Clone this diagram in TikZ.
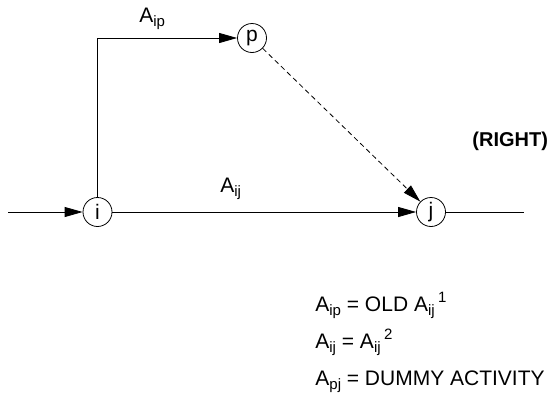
\documentclass[tikz,border=0pt]{standalone}
\usepackage{fontspec}
\setmainfont{Liberation Sans}
\usetikzlibrary{arrows.meta}
\newcommand\subtx[1]{\raisebox{-0.22em}{\fontsize{15}{18}\selectfont #1}}
\newcommand\suptx[1]{\,\raisebox{0.4em}{\fontsize{15}{18}\selectfont #1}}

\begin{document}
\begin{tikzpicture}[x=1pt,y=-1pt,font=\fontsize{21}{25}\selectfont,line width=0.8pt,
        ev/.style={draw,circle,minimum size=29pt,inner sep=0pt},
        f/.style={-{Triangle[length=18pt,width=10pt]}},
        lbl/.style={anchor=base west,inner sep=0pt}]
        \useasboundingbox (0,0) rectangle (552,399);
        \node[ev] (i) at (97.5,212) {i};
        \node[ev] (p) at (252,38) {p};
        \node[ev] (j) at (431,212) {j};
        \coordinate (in) at (8,212);
        \coordinate (out) at (524,212);
        \draw[f] (in) -- (i); \draw[f] (i) |- (p); \draw[f] (i) -- (j);
        \draw[f,dash pattern=on 5pt off 3.5pt] (p) -- (j);
        \draw (j) -- (out);
        \node[lbl] (aip) at (139,22) {A\subtx{ip}};
        \node[lbl] (aij) at (220,192) {A\subtx{ij}};
        \node[lbl,font=\fontsize{20}{24}\selectfont\bfseries] (right) at (472,146) {(RIGHT)};
        \node[lbl] (e1) at (315,311) {A\subtx{ip} = OLD A\subtx{ij}\suptx{1}};
        \node[lbl] (e2) at (315,348) {A\subtx{ij} = A\subtx{ij}\suptx{2}};
        \node[lbl] (e3) at (315,385) {A\subtx{pj} = DUMMY ACTIVITY};
      \end{tikzpicture}
\end{document}
